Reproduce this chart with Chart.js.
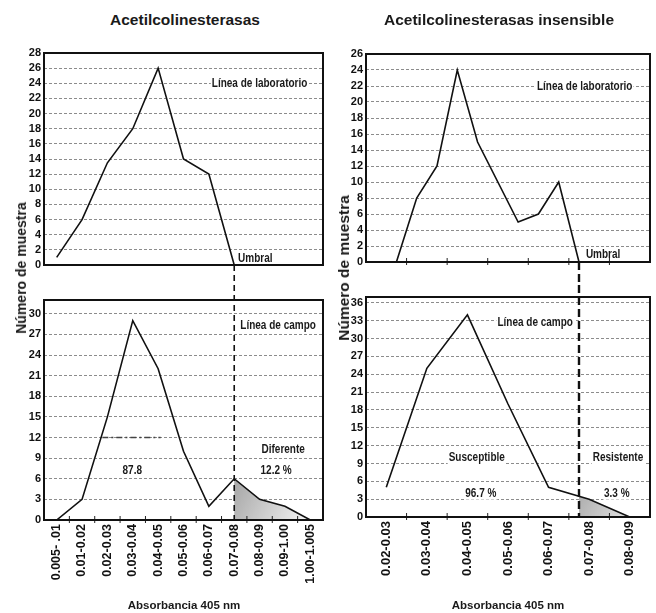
<!DOCTYPE html>
<html>
<head>
<meta charset="utf-8">
<script src="https://cdn.jsdelivr.net/npm/chart.js@4.4.1/dist/chart.umd.min.js"></script>
<style>
  body { margin: 0; background: #fff; width: 656px; height: 613px; position: relative; overflow: hidden;
         font-family: 'Liberation Sans', Arial, sans-serif; color: #1a1a1a; }
  canvas { position: absolute; }
  .t { position: absolute; font-weight: bold; white-space: nowrap; transform: translate(-50%, -50%); }
  .yt { position: absolute; font-weight: bold; white-space: nowrap; transform: translate(-50%, -50%) rotate(-90deg); }
</style>
</head>
<body>
<canvas id="labL" width="330" height="245" style="left:0;top:40px"></canvas>
<canvas id="campoL" width="330" height="328" style="left:0;top:285px"></canvas>
<canvas id="labR" width="330" height="245" style="left:326px;top:40px"></canvas>
<canvas id="campoR" width="330" height="328" style="left:326px;top:285px"></canvas>

<div class="t" style="left:185px;top:20px;font-size:15.5px">Acetilcolinesterasas</div>
<div class="t" style="left:499px;top:20px;font-size:15.5px">Acetilcolinesterasas insensible</div>
<div class="yt" style="left:21px;top:268px;font-size:14px">Número de muestra</div>
<div class="yt" style="left:344px;top:268px;font-size:15.5px">Número de muestra</div>
<div class="t" style="left:184px;top:605px;font-size:11.5px">Absorbancia 405 nm</div>
<div class="t" style="left:508px;top:605px;font-size:11.5px">Absorbancia 405 nm</div>

<script>
// left: Acetilcolinesterasas
const catLeft = ['0.005- .01', '0.01-0.02', '0.02-0.03', '0.03-0.04', '0.04-0.05', '0.05-0.06',
                 '0.06-0.07', '0.07-0.08', '0.08-0.09', '0.09-1.00', '1.00-1.005'];
const labLeft = [1, 6, 13.5, 18, 26, 14, 12, 0, null, null, null];
const campoLeft = [0, 3, 15, 29, 22, 10, 2, 6, 3, 2, 0];
const umbralLeft = 7;

// right: Acetilcolinesterasas insensible
const catRight = ['0.02-0.03', '0.03-0.04', '0.04-0.05', '0.05-0.06', '0.06-0.07', '0.07-0.08', '0.08-0.09'];
const labRightX = [0.25, 0.75, 1.25, 1.75, 2.25, 3.25, 3.75, 4.25, 4.75];
const labRightY = [0, 8, 12, 24, 15, 5, 6, 10, 0];
const campoRight = [5, 25, 34, 19, 5, 3, 0];
const umbralRight = 4.75;

const SANS = "'Liberation Sans', Arial, sans-serif";

function yAxis(max, step) {
    return {
        min: 0,
        max: max,
        ticks: { stepSize: step, autoSkip: false, padding: 3, color: '#111',
                 font: { family: SANS, size: 11, weight: 'bold' } },
        afterBuildTicks: (s) => {
            const t = [];
            for (let v = 0; v <= max; v += step) t.push({ value: v });
            s.ticks = t;
        },
        afterFit: (s) => { s.width = 34; },
        grid: { color: (c) => (c.tick && c.tick.value === 0) ? 'rgba(0,0,0,0)' : '#8c8c8c', lineWidth: 1, drawTicks: false },
        border: { display: false, dash: [3, 2] }
    };
}

function bottomAxis(size) {
    return {
        type: 'category',
        offset: true,
        grid: { display: false, drawTicks: false },
        border: { display: false },
        ticks: { autoSkip: false, maxRotation: 90, minRotation: 90, padding: 4, color: '#111',
                 font: { family: SANS, size: size, weight: 'bold' } },
        afterFit: (s) => { s.height = 75; }
    };
}

// box, umbral line, shaded tail, notes
function deco(cfg) {
    return {
        id: 'deco',
        beforeDatasetsDraw(chart) {
            const { ctx, chartArea: a, scales: { x, y } } = chart;
            if (cfg.fillFrom != null) {
                const pts = chart.getDatasetMeta(0).data.filter(p => !p.skip);
                const x0 = x.getPixelForValue(cfg.fillFrom);
                const base = y.getPixelForValue(0);
                ctx.save();
                ctx.beginPath();
                ctx.rect(x0, a.top, a.right - x0, base - a.top);
                ctx.clip();
                const g = ctx.createLinearGradient(x0, base - 40, x0 + 75, base);
                g.addColorStop(0, '#a6a6a6');
                g.addColorStop(1, '#f5f5f5');
                ctx.beginPath();
                ctx.moveTo(pts[0].x, base);
                pts.forEach(p => ctx.lineTo(p.x, p.y));
                ctx.lineTo(pts[pts.length - 1].x, base);
                ctx.closePath();
                ctx.fillStyle = g;
                ctx.fill();
                ctx.restore();
            }
            if (cfg.mean) {
                const m = cfg.mean;
                ctx.save();
                ctx.strokeStyle = '#444';
                ctx.lineWidth = 1.5;
                ctx.setLineDash([6, 3, 2, 3]);
                ctx.beginPath();
                ctx.moveTo(x.getPixelForValue(m.from), y.getPixelForValue(m.y));
                ctx.lineTo(x.getPixelForValue(m.to), y.getPixelForValue(m.y));
                ctx.stroke();
                ctx.restore();
            }
        },
        afterDraw(chart) {
            const { ctx, chartArea: a, scales: { x, y } } = chart;
            ctx.save();
            // notes, condensed bold text
            (cfg.notes || []).forEach(n => {
                const sx = 0.8;
                ctx.font = 'bold ' + (n.size || 12.5) + 'px ' + SANS;
                const w = ctx.measureText(n.t).width * sx;
                const px = x.getPixelForValue(n.x), py = y.getPixelForValue(n.y);
                const left = n.align === 'left' ? px : px - w / 2;
                ctx.fillStyle = '#fff';
                ctx.fillRect(left - 1, py - 7, w + 2, 14);
                ctx.save();
                ctx.translate(left, py + 0.5);
                ctx.scale(sx, 1);
                ctx.fillStyle = '#1a1a1a';
                ctx.textAlign = 'left';
                ctx.textBaseline = 'middle';
                ctx.fillText(n.t, 0, 0);
                ctx.restore();
            });
            // small ticks between categories
            if (cfg.ticks) {
                ctx.strokeStyle = '#222';
                ctx.lineWidth = 1;
                cfg.ticks.forEach(v => {
                    const px = x.getPixelForValue(v);
                    ctx.beginPath();
                    ctx.moveTo(px, a.bottom - 4);
                    ctx.lineTo(px, a.bottom + 3);
                    ctx.stroke();
                });
            }
            // frame
            ctx.strokeStyle = '#111';
            ctx.lineWidth = 2;
            ctx.strokeRect(a.left, a.top, a.right - a.left, a.bottom - a.top);
            // umbral
            if (cfg.umbral != null) {
                const ux = x.getPixelForValue(cfg.umbral);
                ctx.strokeStyle = '#111';
                ctx.lineWidth = cfg.umbralWidth || 1.6;
                ctx.setLineDash(cfg.umbralDash || [6, 4]);
                ctx.beginPath();
                if (cfg.umbralDown) {
                    ctx.moveTo(ux, a.bottom);
                    ctx.lineTo(ux, chart.height);
                } else {
                    ctx.moveTo(ux, 0);
                    ctx.lineTo(ux, a.bottom);
                }
                ctx.stroke();
            }
            ctx.restore();
        }
    };
}

function lineDataset(data) {
    return { data: data, borderColor: '#111', borderWidth: 1.6, pointRadius: 0, tension: 0, fill: false, spanGaps: false };
}

const common = {
    responsive: false,
    animation: false,
    plugins: { legend: { display: false }, tooltip: { enabled: false } }
};

new Chart(document.getElementById('labL'), {
    type: 'line',
    data: { labels: catLeft, datasets: [lineDataset(labLeft)] },
    options: Object.assign({}, common, {
        layout: { padding: { left: 10, right: 7, top: 13, bottom: 20 } },
        scales: {
            x: { type: 'category', offset: true, display: false },
            y: yAxis(28, 2)
        }
    }),
    plugins: [deco({
        umbral: umbralLeft, umbralDown: true, umbralDash: [6, 4],
        notes: [
            { t: 'Línea de laboratorio', x: 8, y: 24 },
            { t: 'Umbral', x: 7.15, y: 0.9, align: 'left' }
        ]
    })]
});

new Chart(document.getElementById('campoL'), {
    type: 'line',
    data: { labels: catLeft, datasets: [lineDataset(campoLeft)] },
    options: Object.assign({}, common, {
        layout: { padding: { left: 10, right: 7, top: 15, bottom: 18 } },
        scales: { x: bottomAxis(12.5), y: yAxis(32, 3) }
    }),
    plugins: [deco({
        umbral: umbralLeft, umbralDash: [6, 4], fillFrom: umbralLeft,
        mean: { y: 12, from: 1.8, to: 4.1 },
        ticks: catLeft.slice(1).map((_, i) => i + 0.5),
        notes: [
            { t: 'Línea de campo', x: 8.73, y: 28.3 },
            { t: 'Diferente', x: 8.93, y: 10.3 },
            { t: '12.2 %', x: 8.65, y: 7.3 },
            { t: '87.8', x: 2.98, y: 7.3 }
        ]
    })]
});

new Chart(document.getElementById('labR'), {
    type: 'line',
    data: { datasets: [lineDataset(labRightX.map((v, i) => ({ x: v, y: labRightY[i] })))] },
    options: Object.assign({}, common, {
        layout: { padding: { left: 6, right: 6, top: 14, bottom: 23 } },
        scales: {
            x: { type: 'linear', min: -0.5, max: catRight.length - 0.5, display: false },
            y: yAxis(26, 2)
        }
    }),
    plugins: [deco({
        umbral: umbralRight, umbralDown: true, umbralDash: [8, 4], umbralWidth: 2.4,
        ticks: catRight.slice(1).map((_, i) => i + 0.5),
        notes: [
            { t: 'Línea de laboratorio', x: 4.89, y: 22 },
            { t: 'Umbral', x: 4.92, y: 1.0, align: 'left' }
        ]
    })]
});

new Chart(document.getElementById('campoR'), {
    type: 'line',
    data: { labels: catRight, datasets: [lineDataset(campoRight)] },
    options: Object.assign({}, common, {
        layout: { padding: { left: 6, right: 6, top: 12, bottom: 21 } },
        scales: { x: bottomAxis(13), y: yAxis(37, 3) }
    }),
    plugins: [deco({
        umbral: umbralRight, umbralDash: [8, 4], umbralWidth: 2.4, fillFrom: umbralRight,
        ticks: catRight.slice(1).map((_, i) => i + 0.5),
        notes: [
            { t: 'Línea de campo', x: 3.67, y: 32.8 },
            { t: 'Susceptible', x: 2.23, y: 10 },
            { t: '96.7 %', x: 2.33, y: 4.1 },
            { t: 'Resistente', x: 5.71, y: 10 },
            { t: '3.3 %', x: 5.68, y: 4.1 }
        ]
    })]
});
</script>
</body>
</html>
